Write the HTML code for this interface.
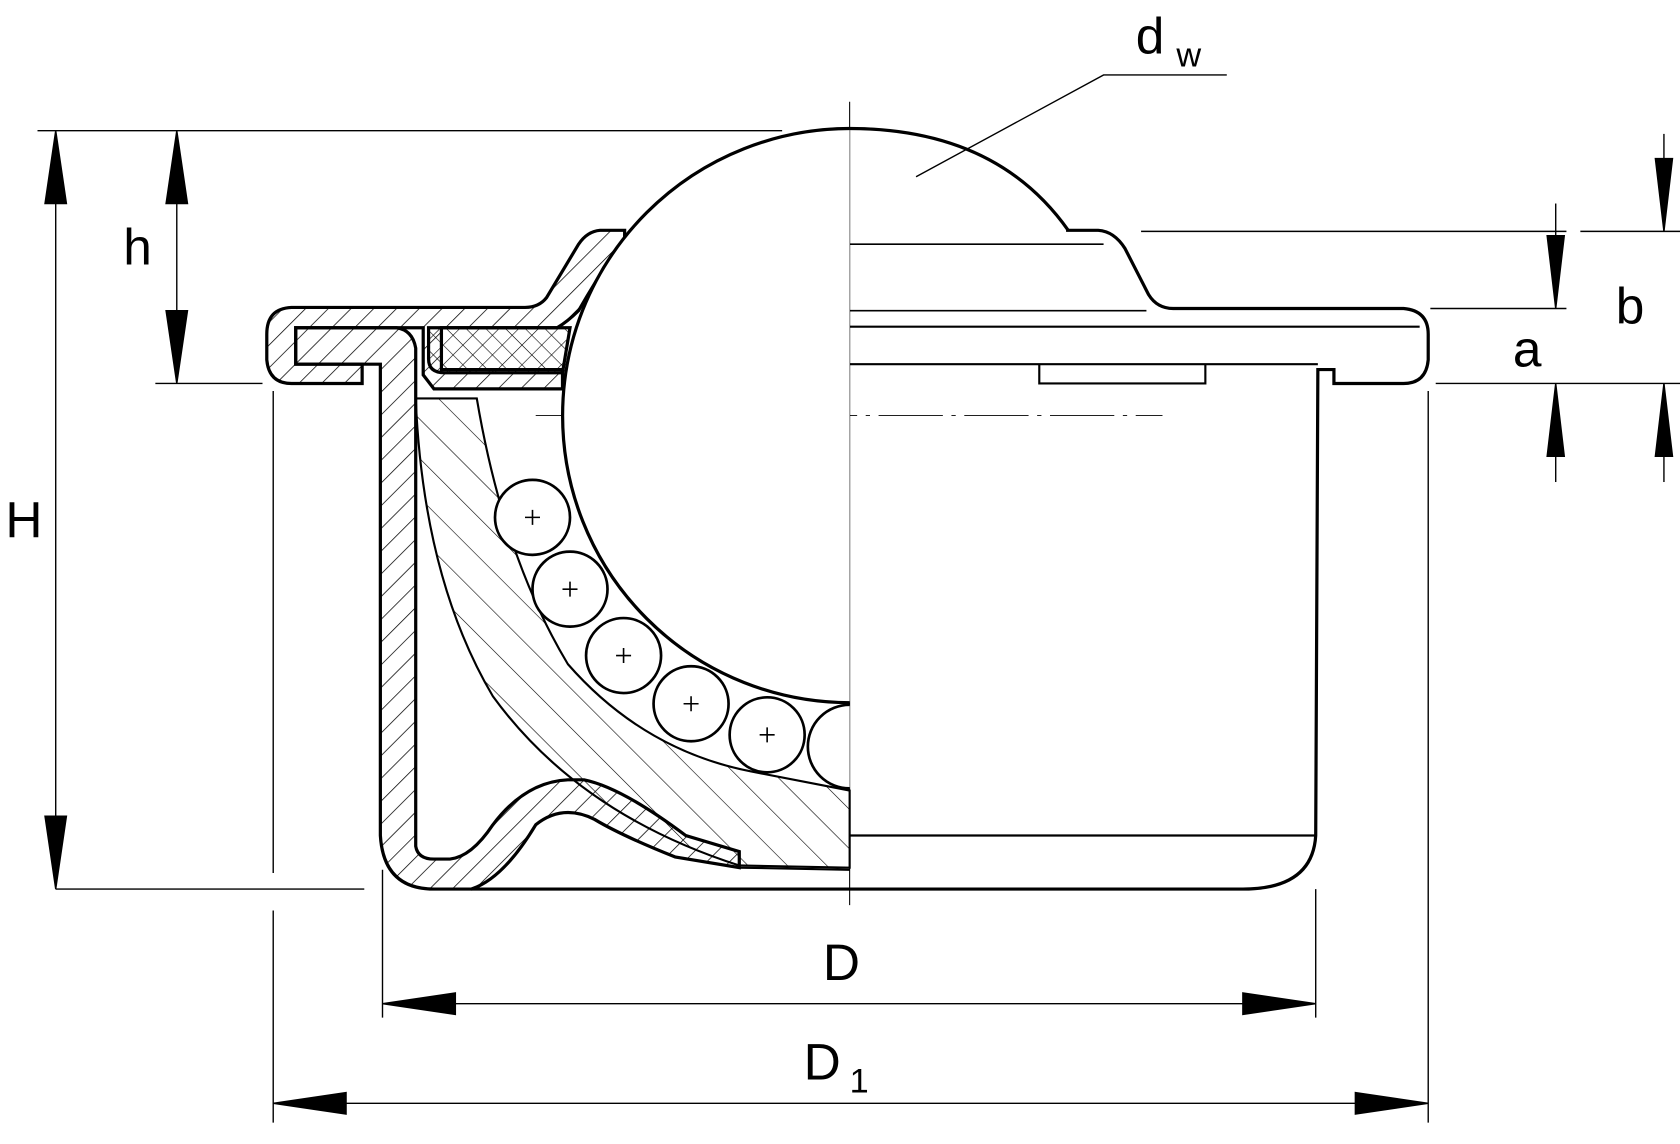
<!DOCTYPE html>
<html><head><style>html,body{margin:0;padding:0;background:#fff}svg{display:block}</style></head>
<body>
<svg width="1680" height="1144" viewBox="0 0 1568 1068" preserveAspectRatio="none" xmlns="http://www.w3.org/2000/svg">
<defs>
<pattern id="h1" width="15" height="15" patternUnits="userSpaceOnUse" patternTransform="rotate(45)"><line x1="0" y1="0" x2="0" y2="15" stroke="#000" stroke-width="1.4"/></pattern>
<pattern id="h2" width="26" height="26" patternUnits="userSpaceOnUse" patternTransform="rotate(-45)"><line x1="0" y1="0" x2="0" y2="26" stroke="#000" stroke-width="1.1"/></pattern>
<pattern id="x1" width="13" height="13" patternUnits="userSpaceOnUse" patternTransform="rotate(45)"><line x1="0" y1="0" x2="0" y2="13" stroke="#000" stroke-width="1.1"/><line x1="0" y1="0" x2="13" y2="0" stroke="#000" stroke-width="1.1"/></pattern>
</defs>
<g fill="none" stroke="#000" stroke-width="1.3">
<line x1="35" y1="122" x2="730" y2="122"/>
<line x1="145" y1="358" x2="245" y2="358"/>
<line x1="52" y1="830" x2="340" y2="830"/>
<line x1="1065" y1="216" x2="1462" y2="216"/>
<line x1="1335" y1="288" x2="1462" y2="288"/>
<line x1="1340" y1="358" x2="1568" y2="358"/>
<line x1="1475" y1="216" x2="1568" y2="216"/>
<line x1="357" y1="812" x2="357" y2="950"/>
<line x1="1228" y1="830" x2="1228" y2="950"/>
<line x1="255" y1="365" x2="255" y2="815"/>
<line x1="255" y1="850" x2="255" y2="1048"/>
<line x1="1333" y1="365" x2="1333" y2="1048"/>
<line x1="793" y1="95" x2="793" y2="845" stroke-width="1"/>
<line x1="500" y1="388" x2="1085" y2="388" stroke-width="0.8" stroke-dasharray="60,8,4,8"/>
<polyline points="855,165 1030,70 1145,70"/>
</g>
<g fill="#000" stroke="#000" stroke-width="1.3">
<line x1="52" y1="122" x2="52" y2="830"/>
<path d="M52,122 l-10,68 h20z"/><path d="M52,830 l-10,-68 h20z"/>
<line x1="165" y1="122" x2="165" y2="358"/>
<path d="M165,122 l-10,68 h20z"/><path d="M165,358 l-10,-68 h20z"/>
<line x1="1452" y1="190" x2="1452" y2="288"/><path d="M1452,288 l-8,-68 h16z"/>
<line x1="1452" y1="358" x2="1452" y2="450"/><path d="M1452,358 l-8,68 h16z"/>
<line x1="1553" y1="125" x2="1553" y2="216"/><path d="M1553,216 l-8,-68 h16z"/>
<line x1="1553" y1="358" x2="1553" y2="450"/><path d="M1553,358 l-8,68 h16z"/>
<line x1="357" y1="937" x2="1228" y2="937"/>
<path d="M357,937 l68,-10 v20z"/><path d="M1228,937 l-68,-10 v20z"/>
<line x1="255" y1="1030" x2="1333" y2="1030"/>
<path d="M255,1030 l68,-10 v20z"/><path d="M1333,1030 l-68,-10 v20z"/>
</g>
<g stroke="#000" stroke-width="3">
<path fill="url(#h1)" d="M583,215 L560,215 Q548,216 540,228 L510,278 Q503,287 490,287 L272,287 Q249,288 249,312 L249,336 Q251,358 272,358 L338,358 L338,340 L276,340 L276,306 L395,306 L395,350 L405,363 L525,363 L525,345 L412,345 L412,306 L520,306 Q530,300 540,290 Q560,255 583,222z"/>
<path fill="url(#x1)" d="M400,306 L532,306 L525,348 L415,348 Q400,348 400,335z"/>
<path fill="url(#h1)" d="M276,306 L370,306 Q385,308 388,325 L388,790 Q390,802 405,802 L420,802 Q440,800 460,770 Q490,730 530,728 L545,728 Q580,735 640,780 L690,795 L690,810 L630,800 Q580,780 555,765 Q525,750 500,770 Q470,820 440,830 L405,830 Q358,830 355,780 L355,340 L276,340z"/>
<path fill="url(#h2)" d="M388,372 L445,372 Q470,520 530,620 Q600,700 700,720 L793,738 L793,810 L690,808 Q540,760 460,650 Q395,540 388,372z" stroke-width="2"/>
<path fill="none" d="M690,795 L690,810 L793,812" stroke-width="2"/>
</g>
<g fill="none" stroke="#000" stroke-width="3">
<path d="M995,215 L1025,215 Q1040,216 1050,232 L1072,275 Q1080,288 1095,288 L1310,288 Q1333,290 1333,312 L1333,336 Q1331,358 1310,358 L1245,358 L1245,345 L1230,345 L1228,780 Q1225,830 1160,830 L440,830"/>
<line x1="793" y1="780" x2="1228" y2="780" stroke-width="2"/>
<line x1="793" y1="305" x2="1325" y2="305" stroke-width="2"/>
<line x1="793" y1="340" x2="1230" y2="340" stroke-width="2"/>
<path d="M970,340 L970,358 L1125,358 L1125,340" stroke-width="2"/>
<line x1="793" y1="228" x2="1030" y2="228" stroke-width="1.5"/>
<line x1="793" y1="290" x2="1070" y2="290" stroke-width="1.5"/>
<path fill="#fff" d="M793,120 A268,268 0 0 0 793,656"/>
<path d="M793,120 Q930,120 997,215"/>
</g>
<g fill="#fff" stroke="#000" stroke-width="2.5">
<circle cx="497" cy="483" r="35"/><circle cx="532" cy="550" r="35"/><circle cx="582" cy="612" r="35"/><circle cx="645" cy="657" r="35"/><circle cx="716" cy="686" r="35"/>
<path d="M793,658 A35,35 0 0 0 793,736"/>
</g>
<g stroke="#000" stroke-width="1.5">
<path d="M490,483h14M497,476v14M525,550h14M532,543v14M575,612h14M582,605v14M638,657h14M645,650v14M709,686h14M716,679v14"/>
</g>
<g font-family="Liberation Sans, sans-serif" font-size="48" fill="#000">
<text x="1060" y="50">d</text><text x="1098" y="62" font-size="32">w</text>
<text x="5" y="502">H</text>
<text x="115" y="247">h</text>
<text x="1412" y="342">a</text>
<text x="1508" y="302">b</text>
<text x="768" y="915">D</text>
<text x="750" y="1008">D</text><text x="793" y="1020" font-size="32">1</text>
</g>
</svg>
</body></html>
